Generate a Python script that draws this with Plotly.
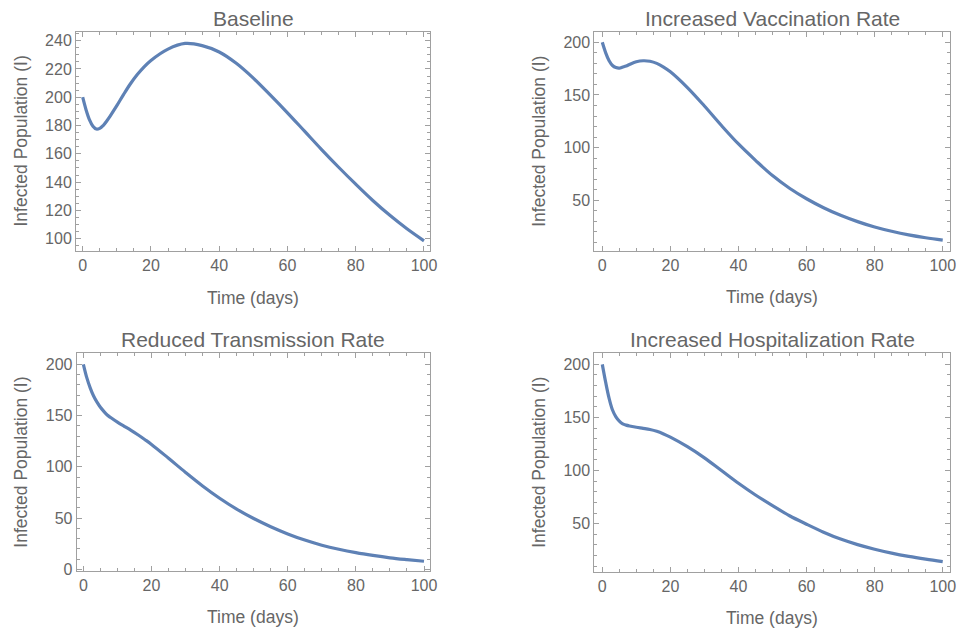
import plotly.graph_objects as go

# ---- data ----
t = [0, 1, 2, 3, 4, 5, 6, 7, 8, 10, 12, 14, 16, 18, 20, 25, 30, 35, 40, 45,
     50, 55, 60, 65, 70, 75, 80, 85, 90, 95, 100]

baseline = [200, 191, 184, 179.5, 177.5, 178, 180, 183, 186.5, 194, 202, 209.5,
            216, 221.5, 226, 234, 238, 236.5, 232, 224, 213.5, 201.5, 189, 176,
            163, 150.5, 138.5, 127, 116.5, 107, 98.5]

vaccination = [200, 190, 182.5, 178, 176, 175.5, 176.5, 177.5, 179, 181.5, 182.5,
               182, 180, 176.5, 172, 157, 139.5, 121, 103.5, 88, 73.5, 61.5, 51.5,
               43, 35.8, 29.8, 24.7, 20.6, 17.2, 14.5, 12.3]

transmission = [200, 187, 177, 169, 163, 158, 154, 150.5, 148, 143.5, 139.5, 135.5,
                131.2, 126.6, 121.8, 108.3, 94.5, 81.3, 69.3, 58.7, 49.5, 41.5,
                34.5, 28.5, 23.5, 19.5, 16.2, 13.5, 11.2, 9.4, 7.8]

hospitalization = [200, 183, 168, 157, 150.5, 146.5, 144, 142.8, 142, 140.8, 139.8,
                   138.7, 137, 134.5, 131.5, 122.5, 112, 100, 88, 77, 67, 57.5,
                   49.5, 42, 35.5, 30.3, 26, 22.3, 19.2, 16.6, 14.3]

titles = ["Baseline", "Increased Vaccination Rate",
          "Reduced Transmission Rate", "Increased Hospitalization Rate"]
series = [baseline, vaccination, transmission, hospitalization]
x_title = "Time (days)"
y_title = "Infected Population (I)"

# ---- layout geometry (pixels) ----
W, H = 958, 633
frames = [  # left, right, top, bottom
    (76, 430, 32, 251),
    (594.3, 950, 32.3, 250.7),
    (76.7, 430, 353.3, 570.7),
    (594.3, 950, 353.3, 571.7),
]
xranges = [[-1.96, 101.76], [-2.35, 102.14], [-1.96, 101.76], [-2.35, 102.14]]
yranges = [[91.3, 246.1], [2.2, 209.5], [-1.4, 210.7], [4.8, 210.4]]
ydticks = [20, 50, 50, 50]
yminor = [5, 10, 10, 10]

LINE = "#5E81B5"
FRAME = "#a0a0a0"
TEXT = "#666666"
FONT = "Liberation Sans, Arial, sans-serif"

fig = go.Figure()
layout = dict(
    width=W, height=H, margin=dict(l=0, r=0, t=0, b=0, autoexpand=False),
    paper_bgcolor="white", plot_bgcolor="white", showlegend=False,
    font=dict(family=FONT, color=TEXT, size=16),
)
annotations = []
for i in range(4):
    sfx = "" if i == 0 else str(i + 1)
    l, r, tp, bt = frames[i]
    fig.add_trace(go.Scatter(x=t, y=series[i], mode="lines",
                             line=dict(color=LINE, width=3.2, shape="spline"),
                             xaxis="x" + sfx, yaxis="y" + sfx, hoverinfo="skip"))
    common = dict(showline=True, linecolor=FRAME, linewidth=1, mirror="allticks",
                  ticks="inside", ticklen=5, tickcolor=FRAME, tickwidth=1,
                  showgrid=False, zeroline=False, automargin=False,
                  tickfont=dict(family=FONT, size=16, color=TEXT))
    layout["xaxis" + sfx] = dict(
        common, domain=[l / W, r / W], range=xranges[i], anchor="y" + sfx,
        tick0=0, dtick=20,
        minor=dict(dtick=5, tick0=0, ticklen=3, tickcolor=FRAME, ticks="inside"))
    layout["yaxis" + sfx] = dict(
        common, domain=[1 - bt / H, 1 - tp / H], range=yranges[i], anchor="x" + sfx,
        tick0=0, dtick=ydticks[i],
        minor=dict(dtick=yminor[i], tick0=0, ticklen=3, tickcolor=FRAME, ticks="inside"))
    cx = (l + r) / 2 / W
    cy = (tp + bt) / 2
    annotations.append(dict(text=titles[i], x=cx, y=1 - (tp - 13.5) / H,
                            xref="paper", yref="paper", showarrow=False,
                            xanchor="center", yanchor="middle",
                            font=dict(family=FONT, size=21, color=TEXT)))
    annotations.append(dict(text=x_title, x=cx, y=1 - (bt + 46.5) / H,
                            xref="paper", yref="paper", showarrow=False,
                            xanchor="center", yanchor="middle",
                            font=dict(family=FONT, size=17.5, color=TEXT)))
    annotations.append(dict(text=y_title, x=(l - 56) / W, y=1 - cy / H,
                            xref="paper", yref="paper", showarrow=False,
                            textangle=-90, xanchor="center", yanchor="middle",
                            font=dict(family=FONT, size=17.5, color=TEXT)))
layout["annotations"] = annotations
fig.update_layout(**layout)
fig.write_html("out.html",
               config={"displayModeBar": False},
               post_script="document.body.style.margin='0px';"
                           "document.body.style.overflow='hidden';")
